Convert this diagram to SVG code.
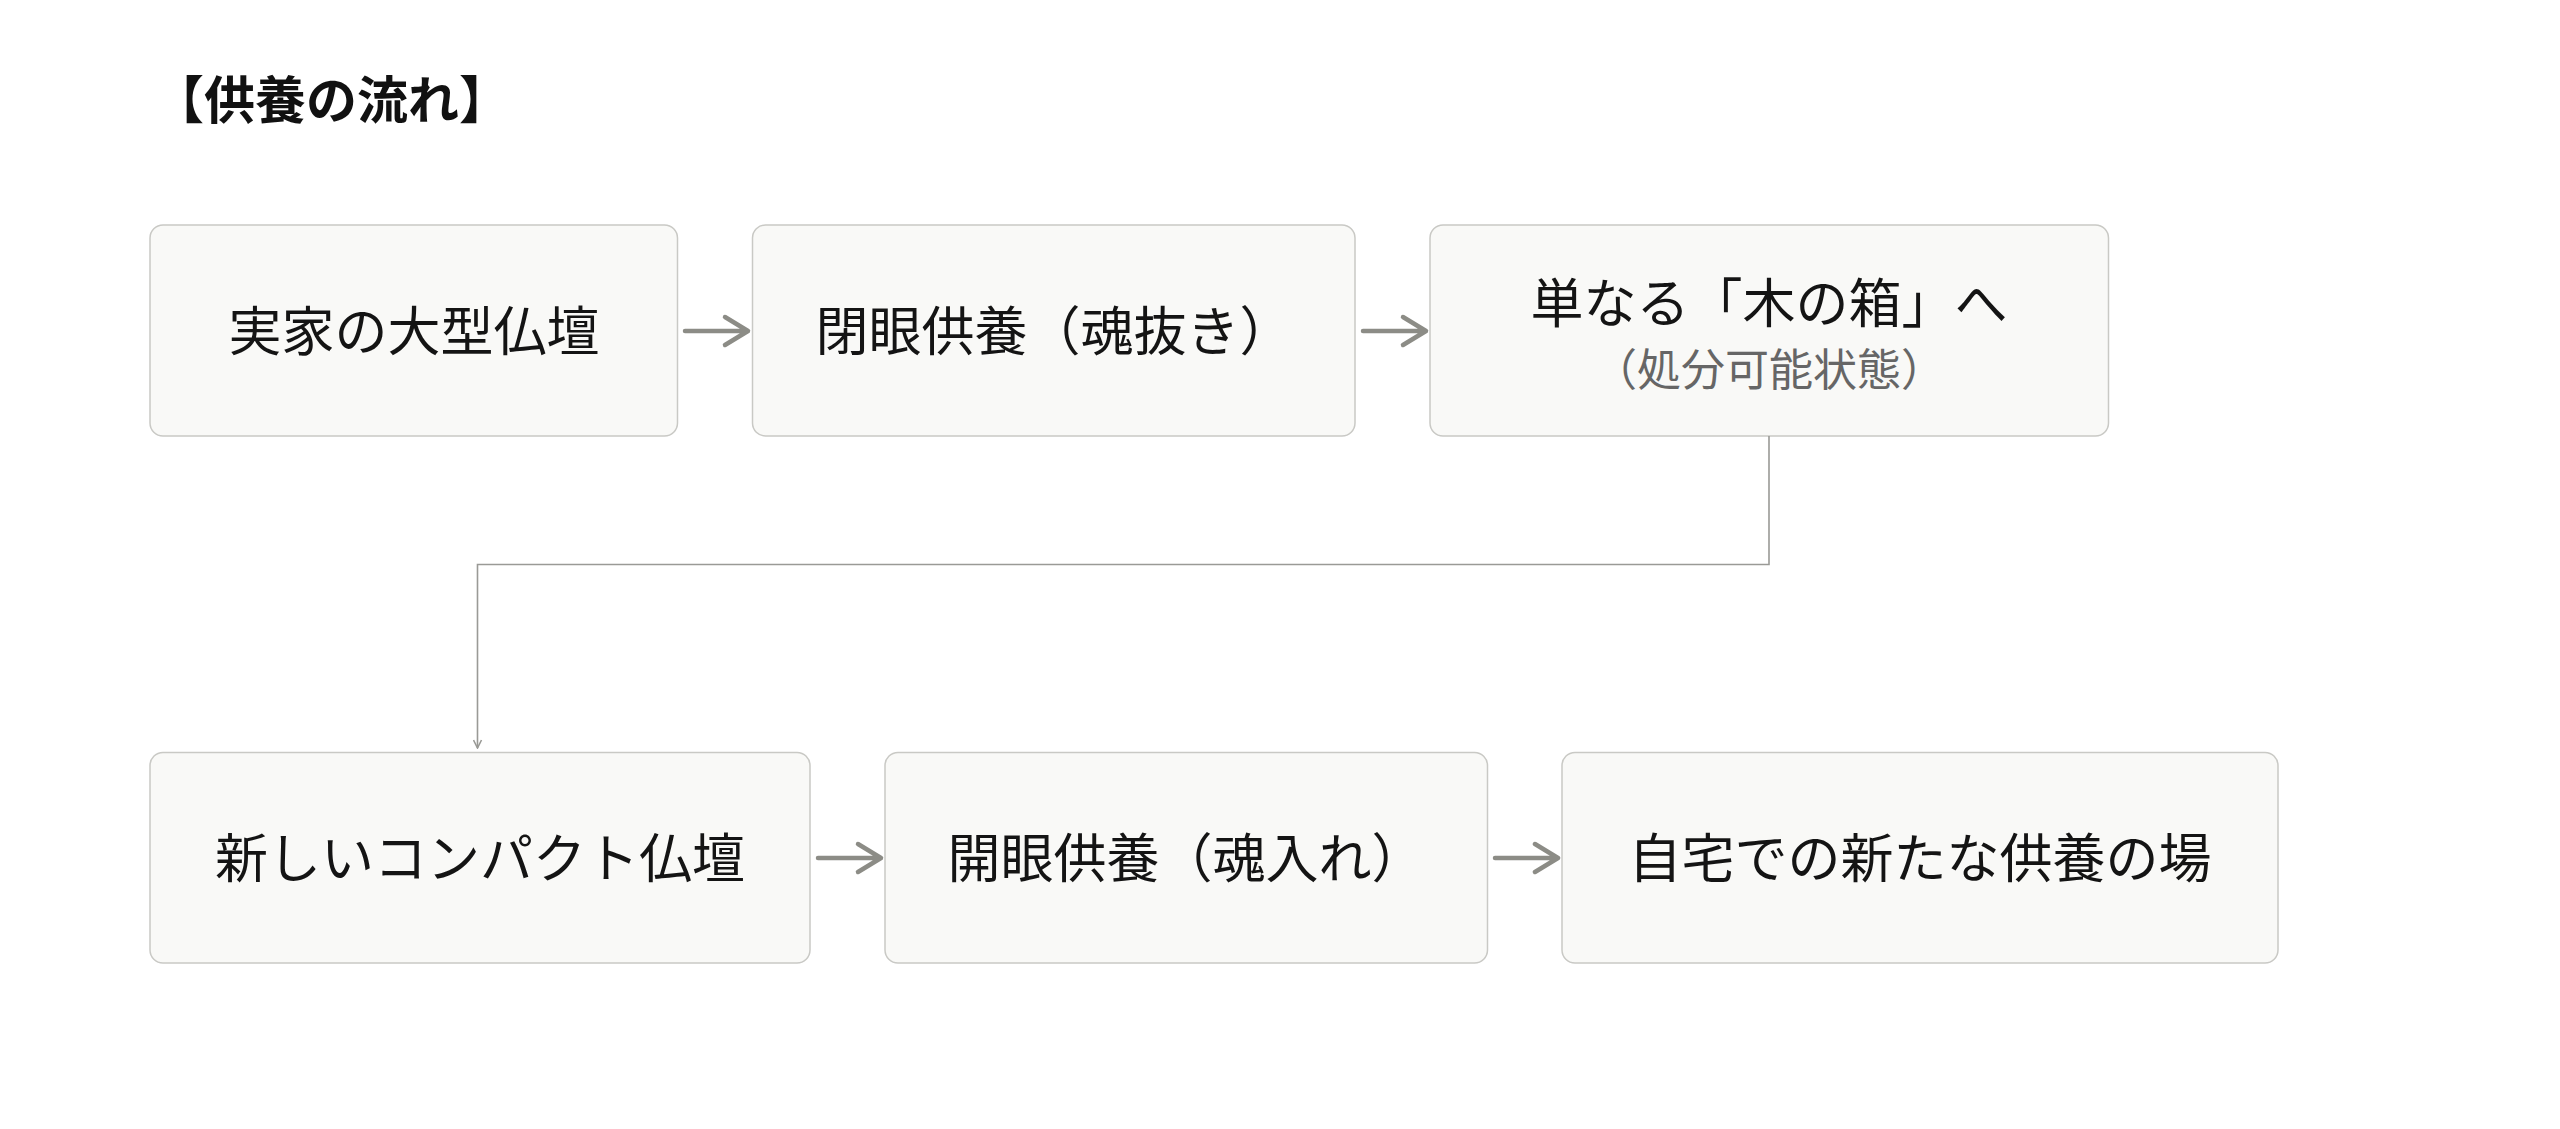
<svg xmlns="http://www.w3.org/2000/svg" width="2560" height="1129" viewBox="0 0 2560 1129">
  <style>
    .box { fill: #f9f9f7; stroke: #c9c9c5; stroke-width: 1.5; }
    .t { font-family: "Noto Sans CJK JP", "Noto Sans", sans-serif; font-size: 53px; fill: #141414; text-anchor: middle; }
    .sub { font-family: "Noto Sans CJK JP", "Noto Sans", sans-serif; font-size: 44px; fill: #666666; text-anchor: middle; }
    .title { font-family: "Noto Sans CJK JP", "Noto Sans", sans-serif; font-size: 51px; font-weight: bold; fill: #111111; }
    .arr { fill: none; stroke: #8c8c86; stroke-width: 4.5; stroke-linecap: round; stroke-linejoin: round; }
    .elbow { fill: none; stroke: #9a9a96; stroke-width: 1.6; }
  </style>
  <defs>
    <marker id="chev" viewBox="0 0 10 10" refX="9" refY="5" markerWidth="10" markerHeight="10" markerUnits="userSpaceOnUse" orient="auto">
      <path d="M1,1 L9,5 L1,9" fill="none" stroke="#9a9a96" stroke-width="1.6"/>
    </marker>
  </defs>
  <rect width="2560" height="1129" fill="#ffffff"/>

  <text class="title" x="153" y="119">【供養の流れ】</text>

  <g id="node1">
    <rect class="box" x="150" y="225" width="527.5" height="211" rx="13"/>
    <text class="t" x="414" y="351">実家の大型仏壇</text>
  </g>
  <g id="node2">
    <rect class="box" x="752.5" y="225" width="602.5" height="211" rx="13"/>
    <text class="t" x="1054" y="351">閉眼供養（魂抜き）</text>
  </g>
  <g id="node3">
    <rect class="box" x="1430" y="225" width="678.5" height="211" rx="13"/>
    <text class="t" x="1769" y="323">単なる「木の箱」へ</text>
    <text class="sub" x="1769" y="386">（処分可能状態）</text>
  </g>
  <g id="node4">
    <rect class="box" x="150" y="752.5" width="660" height="210.5" rx="13"/>
    <text class="t" x="480" y="878">新しいコンパクト仏壇</text>
  </g>
  <g id="node5">
    <rect class="box" x="885" y="752.5" width="602.5" height="210.5" rx="13"/>
    <text class="t" x="1186" y="878">開眼供養（魂入れ）</text>
  </g>
  <g id="node6">
    <rect class="box" x="1562" y="752.5" width="716" height="210.5" rx="13"/>
    <text class="t" x="1920" y="878">自宅での新たな供養の場</text>
  </g>

  <g id="connectors">
    <path class="arr" d="M685,331 H746 M725,317 L748,331 L725,345"/>
    <path class="arr" d="M1363,331 H1424 M1403,317 L1426,331 L1403,345"/>
    <path class="arr" d="M818,858 H879 M858,844 L881,858 L858,872"/>
    <path class="arr" d="M1495,858 H1556 M1535,844 L1558,858 L1535,872"/>
    <path class="elbow" d="M1769,436 V564.5 H477.5 V748" marker-end="url(#chev)"/>
  </g>
</svg>
